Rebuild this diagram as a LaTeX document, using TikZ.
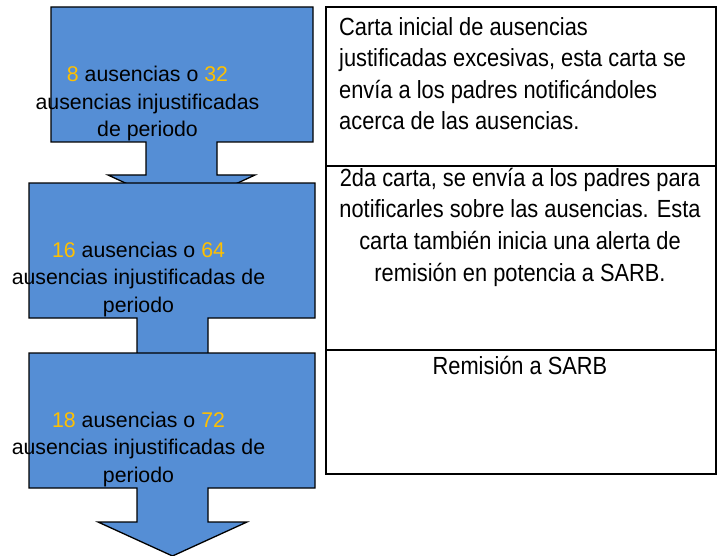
\documentclass[tikz,border=0pt]{standalone}
\usepackage{fontspec}
\setmainfont{Liberation Sans}
\newfontfamily\tallfont[FakeStretch=0.88]{Liberation Sans}
\definecolor{arrowblue}{HTML}{558ED5}
\definecolor{numyellow}{HTML}{FFC000}
\tikzset{
  blockarrow/.style={draw=black, line width=1.3pt, fill=arrowblue, line join=miter},
  tablebox/.style={draw=black, line width=1.3pt},
  lefttext/.style={align=center, anchor=base, inner sep=0pt, font=\fontsize{21.3}{27.5}\selectfont},
  righttext/.style={anchor=base, inner sep=0pt, font=\tallfont\fontsize{24.8}{31.6}\selectfont},
}
\newcommand{\yl}[1]{\textcolor{numyellow}{#1}}
\begin{document}
\begin{tikzpicture}[x=1pt,y=-1pt]
\useasboundingbox (0,0) rectangle (722,556);
% block arrows
\draw[blockarrow] (51,7) -- (313,7) -- (313,142) -- (217,142) -- (217,175) -- (255,175)
  -- (181.5,209) -- (108,175) -- (146,175) -- (146,142) -- (51,142) -- cycle;
\draw[blockarrow] (29,183) -- (315,183) -- (315,318) -- (208,318) -- (208,358) -- (247,358)
  -- (172.5,392) -- (98,358) -- (137,358) -- (137,318) -- (29,318) -- cycle;
\draw[blockarrow] (29,353) -- (315,353) -- (315,488) -- (208,488) -- (208,522) -- (247,522)
  -- (172.5,556) -- (98,522) -- (137,522) -- (137,488) -- (29,488) -- cycle;
% left texts (anchor base = baseline of last line)
\node[lefttext] (t1) at (147.5,137) {\yl{8} ausencias o \yl{32}\\ausencias injustificadas\\de periodo};
\node[lefttext] (t2) at (138.5,312) {\yl{16} ausencias o \yl{64}\\ausencias injustificadas de\\periodo};
\node[lefttext] (t3) at (138.5,482) {\yl{18} ausencias o \yl{72}\\ausencias injustificadas de\\periodo};
% right table
\draw[tablebox] (326,7) rectangle (716,474);
\draw[tablebox] (326,166) -- (716,166);
\draw[tablebox] (326,350) -- (716,350);
\node[righttext, align=left, anchor=base west] (r1) at (339,130) {Carta inicial de ausencias\\justificadas excesivas, esta carta se\\envía a los padres notificándoles\\acerca de las ausencias.};
\node[righttext, align=center] (r2) at (520,281) {2da carta, se envía a los padres para\\notificarles sobre las ausencias. Esta\\carta también inicia una alerta de\\remisión en potencia a SARB.};
\node[righttext, align=center] (r3) at (520,374) {Remisión a SARB};
\end{tikzpicture}
\end{document}
